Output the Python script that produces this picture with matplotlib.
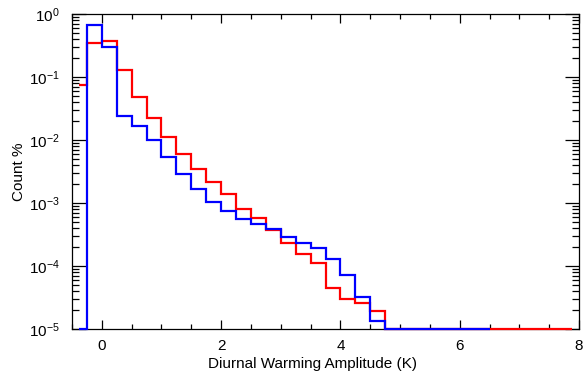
import numpy as np
import matplotlib
matplotlib.use("Agg")
import matplotlib.pyplot as plt
from matplotlib.ticker import FixedLocator, LogLocator, NullFormatter

plt.rcParams['font.family'] = ['Liberation Sans', 'DejaVu Sans']
plt.rcParams['mathtext.fontset'] = 'custom'
plt.rcParams['mathtext.rm'] = 'Liberation Sans'
plt.rcParams['mathtext.it'] = 'Liberation Sans'

FLOOR = 1e-5

# histogram bin edges (K); the first bin is drawn as a half bin
blue_edges = np.concatenate([[-0.375], np.arange(-0.25, 6.501, 0.25)])
blue_vals = [FLOOR, 0.67, 0.30, 0.024, 0.0167, 0.0099, 0.0053, 0.00285,
             0.00165, 0.00103, 0.00075, 0.00056, 0.00046, 0.00039, 0.00029,
             0.00023, 0.000195, 0.000128, 7.2e-5, 3.2e-5, 1.36e-5]
blue_vals = blue_vals + [FLOOR] * (len(blue_edges) - 1 - len(blue_vals))

red_edges = np.concatenate([[-0.375], np.arange(-0.25, 7.751, 0.25), [7.875]])
red_vals = [0.0747, 0.342, 0.37, 0.129, 0.0487, 0.0221, 0.0113, 0.0061,
            0.0035, 0.00213, 0.00137, 0.00079, 0.00057, 0.00037, 0.00023,
            0.000153, 0.00011, 4.4e-5, 2.96e-5, 2.56e-5, 1.95e-5]
red_vals = red_vals + [FLOOR] * (len(red_edges) - 1 - len(red_vals))

xticks = [0, 2, 4, 6, 8]
yticks = [1e-5, 1e-4, 1e-3, 1e-2, 1e-1, 1e0]
ytick_labels = [r'$10^{-5}$', r'$10^{-4}$', r'$10^{-3}$', r'$10^{-2}$',
                r'$10^{-1}$', r'$10^{0}$']

fig = plt.figure(figsize=(5.84, 3.74), dpi=100)
ax = fig.add_axes([72 / 584, 1 - 329 / 374, (579 - 72) / 584, (329 - 14) / 374])

ax.stairs(red_vals, red_edges, baseline=None, color='#ff0000', lw=1.6, clip_on=False, zorder=3)
ax.stairs(blue_vals, blue_edges, baseline=None, color='#0000ff', lw=1.6, clip_on=False, zorder=4)

ax.set_yscale('log')
ax.set_xlim(-0.5, 8)
ax.set_ylim(1e-5, 1)

ax.xaxis.set_major_locator(FixedLocator(xticks))
ax.xaxis.set_minor_locator(FixedLocator(np.arange(-0.5, 8.01, 0.5)))
ax.set_xticklabels([str(t) for t in xticks])
ax.yaxis.set_major_locator(FixedLocator(yticks))
ax.set_yticklabels(ytick_labels)
ax.yaxis.set_minor_locator(LogLocator(base=10, subs=np.arange(2, 10)))
ax.yaxis.set_minor_formatter(NullFormatter())

ax.tick_params(axis='both', which='both', direction='in', top=True, right=True,
               labelsize=11, width=0.9, colors='black')
ax.tick_params(axis='x', which='major', length=6.5, pad=7)
ax.tick_params(axis='x', which='minor', length=3.3)
ax.tick_params(axis='y', which='major', length=10, pad=9)
ax.tick_params(axis='y', which='minor', length=5)
for s in ax.spines.values():
    s.set_linewidth(0.9)

ax.set_xlabel('Diurnal Warming Amplitude (K)', fontsize=11, labelpad=3)
ax.xaxis.set_label_coords((312 - 72) / 507, -0.0)
ax.xaxis.label.set_verticalalignment('top')
ax.set_ylabel('Count %', fontsize=11, labelpad=2)

fig.canvas.draw()
# place x label below tick labels
bb = ax.get_xticklabels()[0].get_window_extent()
y_axes = ax.transAxes.inverted().transform((0, bb.y0 - 4))[1]
ax.xaxis.set_label_coords((312 - 72) / 507, y_axes)

fig.savefig('out.png', dpi=100)
